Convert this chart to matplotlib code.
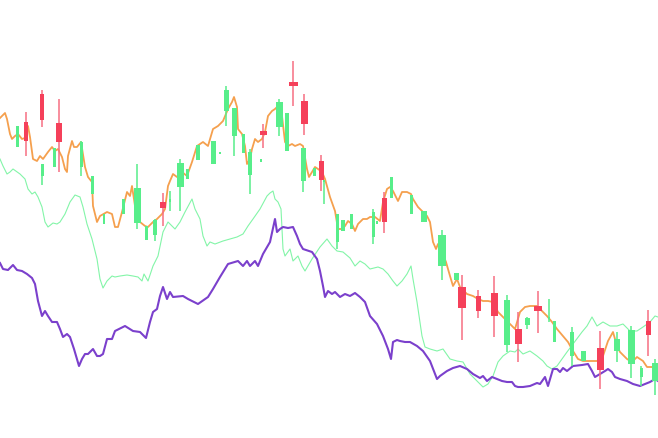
import matplotlib
matplotlib.use("Agg")
import matplotlib.pyplot as plt

H = 439  # value scale height

# ---- candles (x position, open, high, low, close) in chart value units ----
cx = [17, 42, 54, 81, 92, 104, 123, 137, 146, 155, 170, 180, 187, 198, 213, 220, 226, 234, 243, 250,
      261, 279, 287, 303, 314, 324, 337, 343, 351, 373, 377, 391, 411, 424, 442, 456, 507, 527, 549, 554,
      572, 583, 617, 631, 641, 655,
      26, 42, 59, 163, 263, 293, 304, 321, 384, 462, 478, 494, 518, 538, 600, 648]
c_open = [291, 262, 271, 271, 244, 214, 224, 215, 198, 203, 236, 251, 259, 278, 274, 284, 327, 302, 285, 263,
          276, 311, 287, 257, 262, 256, 196, 207, 209, 201, 214, 240, 224, 216, 172, 158, 93, 113, 119, 96,
          82, 77, 87, 74, 61, 57,
          316, 344, 315, 236, 307, 356, 337, 277, 240, 151, 142, 145, 109, 132, 90, 117]
c_close = [312, 274, 290, 296, 262, 224, 239, 250, 212, 218, 239, 275, 269, 293, 297, 286, 348, 330, 304, 286,
           279, 336, 325, 290, 270, 258, 224, 218, 224, 226, 217, 261, 243, 227, 203, 165, 138, 120, 121, 117,
           106, 87, 99, 108, 70, 75,
           297, 318, 296, 230, 303, 352, 314, 258, 216, 130, 127, 122, 94, 127, 68, 103]
c_high = [312, 274, 290, 297, 262, 224, 239, 274, 212, 219, 247, 279, 269, 293, 297, 286, 352, 330, 304, 289,
          279, 339, 325, 290, 270, 258, 224, 218, 224, 229, 217, 261, 243, 227, 208, 165, 143, 121, 139, 117,
          111, 87, 106, 112, 72, 79,
          326, 348, 339, 245, 314, 377, 344, 283, 246, 163, 148, 162, 126, 147, 107, 128]
c_low = [291, 253, 271, 262, 244, 214, 224, 209, 198, 197, 227, 227, 259, 278, 274, 284, 312, 282, 285, 244,
         276, 302, 287, 246, 262, 234, 189, 207, 209, 194, 214, 240, 224, 216, 158, 158, 86, 109, 116, 96,
         72, 77, 76, 60, 52, 43,
         282, 311, 266, 212, 290, 332, 303, 247, 205, 98, 120, 101, 76, 105, 49, 82]
# relative body widths (volume-like weight of each candle)
c_weight = [3, 3, 3, 3, 3, 2, 3, 7, 3, 4, 2, 7, 3, 4, 5, 2, 5, 5, 3, 4,
            2, 7, 4, 5, 3, 2, 3, 4, 3, 3, 2, 3, 3, 6, 8, 5, 6, 5, 2, 3,
            4, 5, 6, 7, 3, 7,
            4, 4, 6, 6, 7, 9, 7, 5, 5, 8, 5, 7, 7, 8, 7, 5]

# ---- orange line ----
o_x = [0, 5, 7, 10, 12, 15, 18, 22, 25, 28, 30, 32, 33, 37, 40, 43, 48, 52, 55, 58, 62, 65, 67, 68, 72, 74,
       77, 81, 85, 88, 92, 93, 97, 100, 107, 112, 115, 118, 122, 127, 130, 132, 135, 140, 145, 148, 153,
       157, 162, 165, 168, 170, 173, 177, 182, 187, 192, 197, 203, 208, 213, 218, 223, 228, 232, 234, 237,
       238, 242, 245, 247, 250, 252, 255, 258, 262, 265, 268, 272, 275, 278, 282, 285, 288, 292, 295, 300,
       303, 307, 309, 312, 315, 318, 322, 325, 330, 335, 338, 342, 345, 348, 352, 355, 358, 363, 367, 370,
       375, 380, 383, 387, 390, 393, 398, 402, 407, 411, 413, 418, 423, 427, 430, 433, 436, 438, 442, 446,
       450, 453, 457, 460, 467, 473, 478, 483, 488, 493, 498, 503, 507, 512, 515, 520, 525, 530, 537, 542,
       547, 552, 557, 563, 568, 573, 578, 583, 590, 597, 603, 608, 613, 617, 620, 627, 632, 637, 643, 647,
       653, 658]
o_y = [320, 325, 319, 304, 299, 302, 304, 299, 300, 312, 301, 286, 279, 277, 282, 279, 286, 291, 287, 289,
       281, 269, 266, 282, 297, 291, 291, 296, 271, 261, 256, 232, 216, 222, 226, 224, 211, 211, 226, 246,
       242, 252, 232, 216, 212, 211, 216, 219, 224, 229, 252, 257, 264, 261, 266, 262, 276, 292, 296, 292,
       309, 312, 317, 329, 336, 341, 331, 309, 304, 292, 274, 279, 289, 299, 296, 299, 306, 322, 327, 329,
       332, 322, 296, 292, 294, 292, 294, 292, 269, 261, 266, 271, 269, 266, 259, 241, 227, 209, 209, 212,
       217, 214, 207, 214, 219, 219, 221, 221, 217, 236, 249, 251, 247, 237, 246, 246, 244, 239, 231, 226,
       222, 216, 196, 189, 194, 186, 176, 162, 152, 159, 151, 144, 142, 139, 137, 137, 136, 126, 121, 117,
       112, 109, 126, 131, 132, 132, 127, 122, 116, 109, 102, 96, 87, 79, 77, 77, 77, 82, 97, 106, 92, 86,
       79, 76, 81, 77, 71, 71, 72]

# ---- light green line ----
g_x = [0, 3, 7, 10, 13, 20, 25, 28, 32, 35, 38, 42, 45, 48, 53, 57, 60, 65, 70, 75, 80, 83, 87, 92, 97,
       100, 103, 107, 112, 115, 120, 127, 133, 138, 142, 144, 148, 153, 158, 163, 168, 175, 180, 185, 192,
       195, 200, 203, 207, 210, 215, 223, 230, 237, 243, 248, 253, 260, 267, 270, 273, 275, 278, 281, 283,
       285, 290, 293, 298, 302, 305, 312, 320, 327, 332, 337, 343, 350, 355, 360, 365, 370, 378, 383, 388,
       393, 397, 402, 407, 411, 413, 417, 422, 425, 430, 437, 443, 450, 457, 463, 470, 477, 483, 488, 493,
       498, 503, 510, 515, 518, 523, 530, 537, 543, 547, 552, 557, 562, 567, 573, 582, 587, 592, 597, 603,
       610, 617, 623, 630, 637, 643, 650, 655, 658]
g_y = [279, 272, 264, 266, 269, 264, 259, 249, 244, 246, 241, 231, 216, 211, 215, 214, 216, 224, 236, 243,
       241, 231, 214, 199, 179, 159, 150, 157, 162, 161, 162, 163, 162, 161, 157, 164, 157, 172, 182, 206,
       216, 209, 216, 226, 239, 229, 219, 202, 192, 196, 194, 197, 199, 201, 204, 212, 219, 229, 242, 245,
       247, 239, 236, 229, 189, 182, 189, 177, 182, 172, 167, 179, 191, 199, 192, 187, 186, 180, 172, 177,
       174, 169, 171, 169, 164, 157, 152, 157, 164, 172, 159, 136, 102, 91, 89, 87, 89, 79, 77, 76, 64,
       57, 51, 54, 62, 76, 82, 87, 86, 89, 84, 87, 82, 77, 72, 69, 72, 79, 86, 94, 106, 112, 121, 112, 116,
       112, 112, 114, 107, 107, 111, 116, 122, 121]

# ---- purple line ----
p_x = [0, 3, 8, 13, 17, 22, 27, 32, 35, 38, 42, 45, 48, 52, 57, 60, 63, 67, 70, 74, 77, 79, 82, 85, 88,
       93, 97, 100, 103, 107, 112, 115, 125, 133, 140, 146, 150, 153, 157, 160, 163, 167, 170, 173, 183,
       188, 198, 208, 213, 220, 228, 238, 243, 247, 250, 255, 258, 263, 270, 275, 277, 280, 283, 288, 293,
       297, 300, 303, 312, 317, 320, 323, 325, 328, 332, 335, 340, 345, 350, 355, 360, 365, 370, 377, 383,
       388, 391, 393, 397, 400, 405, 410, 417, 423, 430, 437, 440, 447, 453, 460, 467, 473, 480, 483, 487,
       492, 497, 502, 507, 512, 515, 518, 523, 530, 537, 540, 545, 548, 553, 557, 560, 563, 567, 573, 582,
       588, 592, 595, 600, 605, 608, 612, 615, 620, 627, 633, 640, 645, 650, 655, 658]
p_y = [175, 169, 168, 173, 168, 167, 164, 160, 154, 137, 122, 127, 122, 116, 116, 109, 101, 104, 101, 89,
       79, 72, 79, 84, 84, 89, 82, 82, 84, 99, 99, 107, 112, 107, 106, 100, 116, 126, 129, 142, 151, 139,
       146, 141, 142, 139, 134, 141, 149, 161, 174, 177, 172, 177, 172, 177, 172, 184, 196, 219, 206, 209,
       211, 210, 211, 202, 194, 189, 186, 179, 167, 152, 141, 147, 144, 146, 141, 144, 142, 145, 141, 136,
       122, 114, 102, 89, 79, 96, 98, 97, 96, 96, 92, 87, 77, 59, 62, 67, 70, 72, 69, 64, 60, 62, 57, 61,
       59, 57, 56, 56, 52, 51, 51, 52, 55, 54, 61, 52, 69, 69, 66, 70, 67, 72, 73, 74, 67, 61, 64, 67, 69,
       66, 61, 59, 57, 54, 52, 54, 56, 59, 57]

GREEN = "#57ee8a"
RED = "#f5405a"
RED_WICK = "#f66f82"
ORANGE = "#f5a04e"
LGREEN = "#83f5a8"
PURPLE = "#7b40cc"

fig = plt.figure(figsize=(6.58, 4.39), dpi=100)
ax = fig.add_axes([0, 0, 1, 1])
ax.set_xlim(0, 658)
ax.set_ylim(0, H)
ax.axis("off")

ax.plot(g_x, g_y, color=LGREEN, lw=0.8, zorder=2)
ax.plot(p_x, p_y, color=PURPLE, lw=1.5, zorder=3)
ax.plot(o_x, o_y, color=ORANGE, lw=1.3, zorder=4)

for x, o, h, l, c, w in zip(cx, c_open, c_high, c_low, c_close, c_weight):
    up = c >= o
    col = GREEN if up else RED
    wcol = GREEN if up else RED_WICK
    ax.vlines(x, l, h, color=wcol, lw=1.1, zorder=5)
    body = abs(c - o)
    ax.bar(x, max(body, 1.5), bottom=min(o, c), width=w, color=col, lw=0, zorder=6)

fig.savefig("out.png", dpi=100, facecolor="white")
